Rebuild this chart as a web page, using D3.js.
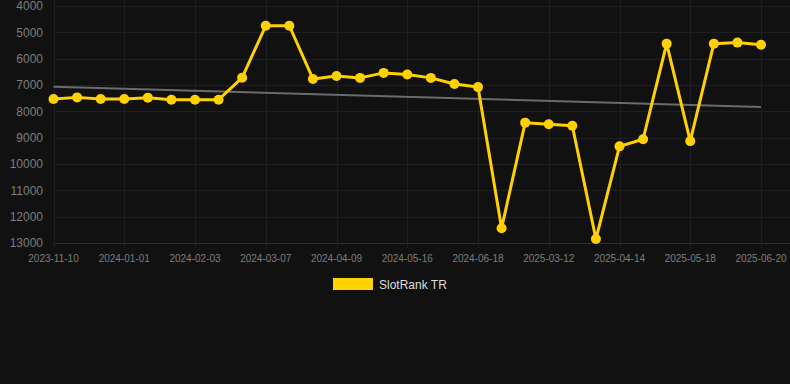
<!DOCTYPE html>
<html>
<head>
<meta charset="utf-8">
<script src="https://cdn.jsdelivr.net/npm/d3@7"></script>
<style>
  html, body { margin: 0; padding: 0; background: #111111; }
  svg { display: block; font-family: "Liberation Sans", Arial, sans-serif; }
</style>
</head>
<body>
<div id="chart"></div>
<script>
// dates on the category axis (one per point)
var dates = [
  "2023-11-10","2023-11-27","2023-12-15","2024-01-01","2024-01-12","2024-01-23",
  "2024-02-03","2024-02-14","2024-02-25","2024-03-07","2024-03-18","2024-03-29",
  "2024-04-09","2024-04-21","2024-05-04","2024-05-16","2024-05-27","2024-06-07",
  "2024-06-18","2024-07-20","2025-02-20","2025-03-12","2025-03-23","2025-04-03",
  "2025-04-14","2025-04-25","2025-05-07","2025-05-18","2025-05-29","2025-06-09",
  "2025-06-20"
];
var rankValues = [
  7530, 7470, 7530, 7530, 7480, 7560, 7560, 7560, 6720, 4750, 4750,
  6770, 6660, 6730, 6540, 6600, 6730, 6960, 7080, 12440, 8430,
  8490, 8545, 12850, 9330, 9060, 5430, 9130, 5430, 5390, 5470
];
// trend line end points (first and last date)
var trendValues = [7065, 7836];
var yTicks = [4000, 5000, 6000, 7000, 8000, 9000, 10000, 11000, 12000, 13000];
var seriesName = "SlotRank TR";

var width = 790, height = 384;
var plotLeft = 53.5, plotRight = 761, plotTop = 6, plotBottom = 243;

var svg = d3.select("#chart").append("svg")
    .attr("width", width)
    .attr("height", height);

var x = d3.scalePoint().domain(d3.range(dates.length)).range([plotLeft, plotRight]);
var y = d3.scaleLinear().domain([4000, 13000]).range([plotTop, plotBottom]);

// horizontal grid
svg.append("g").selectAll("line")
    .data(yTicks)
    .enter().append("line")
    .attr("x1", plotLeft).attr("x2", width)
    .attr("y1", function(d){ return Math.round(y(d)) + 0.5; })
    .attr("y2", function(d){ return Math.round(y(d)) + 0.5; })
    .attr("stroke", function(d){ return d == 13000 ? "#2e2e2e" : "#1f1f1f"; })
    .attr("stroke-width", 1);

// vertical grid, only at labelled dates
var labelIdx = d3.range(0, dates.length, 3);
svg.append("g").selectAll("line")
    .data(labelIdx)
    .enter().append("line")
    .attr("x1", function(i){ return Math.round(x(i)) + 0.5; })
    .attr("x2", function(i){ return Math.round(x(i)) + 0.5; })
    .attr("y1", 0).attr("y2", plotBottom + 5)
    .attr("stroke", "#1f1f1f");

// y axis labels
svg.append("g").selectAll("text")
    .data(yTicks)
    .enter().append("text")
    .attr("x", 43)
    .attr("y", function(d){ return y(d); })
    .attr("dy", "0.35em")
    .attr("text-anchor", "end")
    .attr("font-size", 12)
    .attr("fill", "#7d7d7d")
    .text(function(d){ return d; });

// x axis labels
svg.append("g").selectAll("text")
    .data(labelIdx)
    .enter().append("text")
    .attr("x", function(i){ return x(i); })
    .attr("y", 262)
    .attr("text-anchor", "middle")
    .attr("font-size", 10)
    .attr("fill", "#7d7d7d")
    .text(function(i){ return dates[i]; });

// trend line
svg.append("line")
    .attr("x1", x(0)).attr("y1", y(trendValues[0]))
    .attr("x2", x(dates.length - 1)).attr("y2", y(trendValues[1]))
    .attr("stroke", "#6b6b6b")
    .attr("stroke-width", 2);

var line = d3.line()
    .x(function(d, i){ return x(i); })
    .y(function(d){ return y(d); });

svg.append("path")
    .datum(rankValues)
    .attr("d", line)
    .attr("fill", "none")
    .attr("stroke", "#ffd100")
    .attr("stroke-width", 3)
    .attr("stroke-linejoin", "round");

svg.append("g").selectAll("circle")
    .data(rankValues)
    .enter().append("circle")
    .attr("cx", function(d, i){ return x(i); })
    .attr("cy", function(d){ return y(d); })
    .attr("r", 5)
    .attr("fill", "#ffd100");

// legend
var legend = svg.append("g");
legend.append("rect")
    .attr("x", 333).attr("y", 278)
    .attr("width", 40).attr("height", 12)
    .attr("fill", "#ffd100");
legend.append("text")
    .attr("x", 379).attr("y", 288.5)
    .attr("font-size", 12)
    .attr("fill", "#dddddd")
    .text(seriesName);
</script>
</body>
</html>
